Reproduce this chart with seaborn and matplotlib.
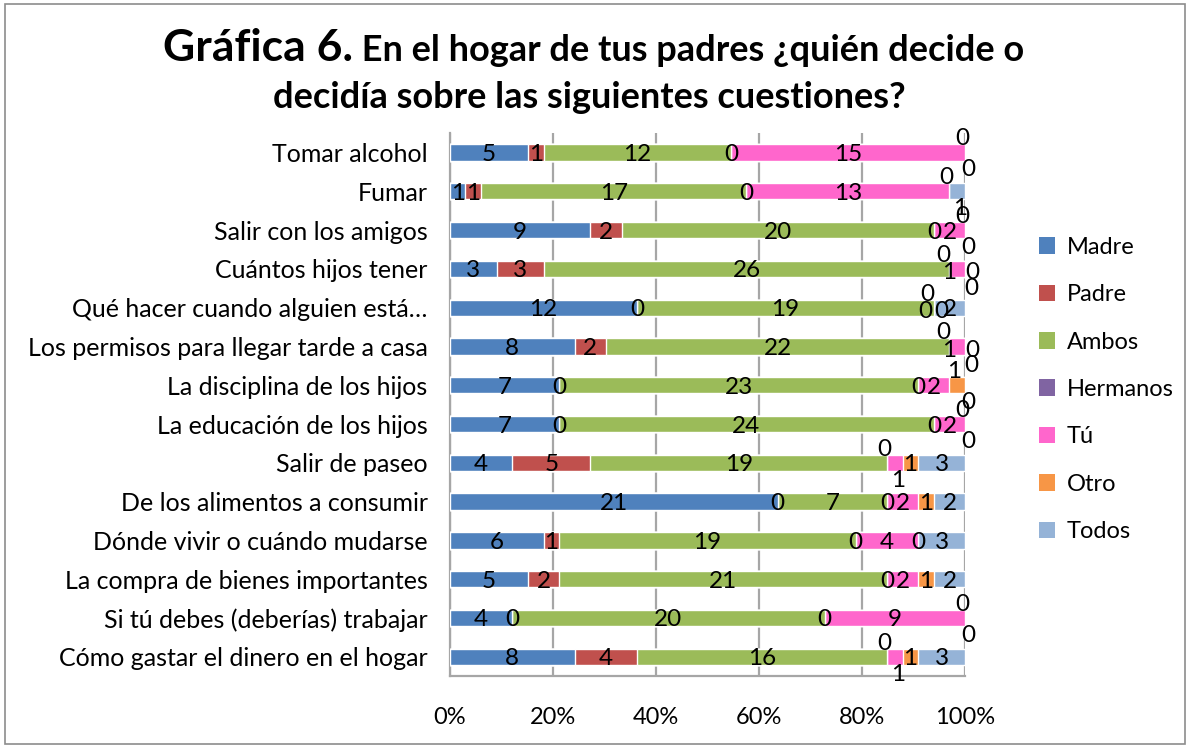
import pandas as pd
import seaborn as sns
import matplotlib.pyplot as plt
from matplotlib.patches import Patch, Rectangle

categories = ['Tomar alcohol', 'Fumar', 'Salir con los amigos', 'Cuántos hijos tener',
              'Qué hacer cuando alguien está…', 'Los permisos para llegar tarde a casa',
              'La disciplina de los hijos', 'La educación de los hijos', 'Salir de paseo',
              'De los alimentos a consumir', 'Dónde vivir o cuándo mudarse',
              'La compra de bienes importantes', 'Si tú debes (deberías) trabajar',
              'Cómo gastar el dinero en el hogar']
madre = [5, 1, 9, 3, 12, 8, 7, 7, 4, 21, 6, 5, 4, 8]
padre = [1, 1, 2, 3, 0, 2, 0, 0, 5, 0, 1, 2, 0, 4]
ambos = [12, 17, 20, 26, 19, 22, 23, 24, 19, 7, 19, 21, 20, 16]
hermanos = [0, 0, 0, 0, 0, 0, 0, 0, 0, 0, 0, 0, 0, 0]
tu = [15, 13, 2, 1, 0, 1, 2, 2, 1, 2, 4, 2, 9, 1]
otro = [0, 0, 0, 0, 0, 0, 1, 0, 1, 1, 0, 1, 0, 1]
todos = [0, 1, 0, 0, 2, 0, 0, 0, 3, 2, 3, 2, 0, 3]

series_names = ['Madre', 'Padre', 'Ambos', 'Hermanos', 'Tú', 'Otro', 'Todos']
colors = ['#4F81BD', '#C0504D', '#9BBB59', '#8064A2', '#FF66CC', '#F79646', '#95B3D7']

df = pd.DataFrame({'categoria': categories, 'Madre': madre, 'Padre': padre, 'Ambos': ambos,
                   'Hermanos': hermanos, 'Tú': tu, 'Otro': otro, 'Todos': todos})
total = df[series_names].sum(axis=1)
pct = df[series_names].div(total, axis=0) * 100
cum = pct.cumsum(axis=1)
cum['categoria'] = df['categoria']

sns.set_style('white')
plt.rcParams['font.family'] = ['Lato', 'DejaVu Sans']
plt.rcParams['text.color'] = 'black'
plt.rcParams['xtick.color'] = 'black'
plt.rcParams['ytick.color'] = 'black'

fig = plt.figure(figsize=(11.9, 7.48), dpi=100)
ax = fig.add_axes([0.378, 0.096, 0.433, 0.726])

# stacked bars: draw cumulative totals from the last series back to the first
for name, c in reversed(list(zip(series_names, colors))):
    sns.barplot(data=cum, x=name, y='categoria', color=c, orient='h', width=0.42,
                saturation=1, ax=ax, zorder=3)

ax.set_xlim(0, 100)
ax.set_ylim(13.5, -0.5)
ax.set_xticks([0, 20, 40, 60, 80, 100])
ax.set_xticklabels(['0%', '20%', '40%', '60%', '80%', '100%'], fontsize=17)
ax.tick_params(axis='y', labelsize=18, length=0, pad=16)
ax.tick_params(axis='x', length=0, pad=22)
ax.set_xlabel('')
ax.set_ylabel('')
ax.xaxis.grid(True, color='#A6A6A6', lw=1.6, zorder=0)
for s in ['top', 'right']:
    ax.spines[s].set_visible(False)
ax.spines['left'].set_color('#A6A6A6')
ax.spines['bottom'].set_color('#A6A6A6')
ax.spines['left'].set_linewidth(1.6)
ax.spines['bottom'].set_linewidth(1.6)

# data labels, nudged where they collide
for i in range(len(categories)):
    left = 0
    pos = []
    for name in series_names:
        w = pct.loc[i, name]
        pos.append((left + w / 2, df.loc[i, name]))
        left += w
    clusters = []
    for xc, v in pos:
        if clusters and xc - clusters[-1][-1][0] < 2.4:
            clusters[-1].append((xc, v))
        else:
            clusters.append([(xc, v)])
    for cl in clusters:
        if len(cl) == 1:
            offs = [(0, 0)]
        elif len(cl) == 2:
            offs = [(-0.6, -0.4), (0.6, 0.4)]
        else:
            offs = [(-1.2, -0.4), (-1.6, 0.05), (1.4, 0.05), (1.2, 0.45), (0, 0.45)]
        for (xc, v), (dx, dy) in zip(cl, offs):
            ax.text(xc + dx, i + dy + 0.05, str(v), ha='center', va='center',
                    fontsize=17.5, color='black', zorder=5)

handles = [Patch(facecolor=c, edgecolor='none') for c in colors]
fig.legend(handles, series_names, loc='upper left', bbox_to_anchor=(0.855, 0.712),
           frameon=False, fontsize=17, handlelength=0.7, handleheight=0.7,
           handletextpad=0.5, labelspacing=1.12)

# title, first words larger
t1 = fig.text(0, 0.918, 'Gráfica 6.', fontsize=32, fontweight='bold', va='baseline')
t2 = fig.text(0, 0.918, ' En el hogar de tus padres ¿quién decide o', fontsize=26,
              fontweight='bold', va='baseline')
fig.text(0.495, 0.856, 'decidía sobre las siguientes cuestiones?', fontsize=26,
         fontweight='bold', ha='center', va='baseline')
fig.canvas.draw()
r = fig.canvas.get_renderer()
w1 = t1.get_window_extent(r).width / fig.bbox.width
w2 = t2.get_window_extent(r).width / fig.bbox.width
x0 = 0.499 - (w1 + w2) / 2
t1.set_x(x0)
t2.set_x(x0 + w1)

fig.patches.append(Rectangle((0.004, 0.006), 0.992, 0.988, transform=fig.transFigure,
                             fill=False, edgecolor='#8C8C8C', lw=1.2))

fig.savefig('out.png', dpi=100)
